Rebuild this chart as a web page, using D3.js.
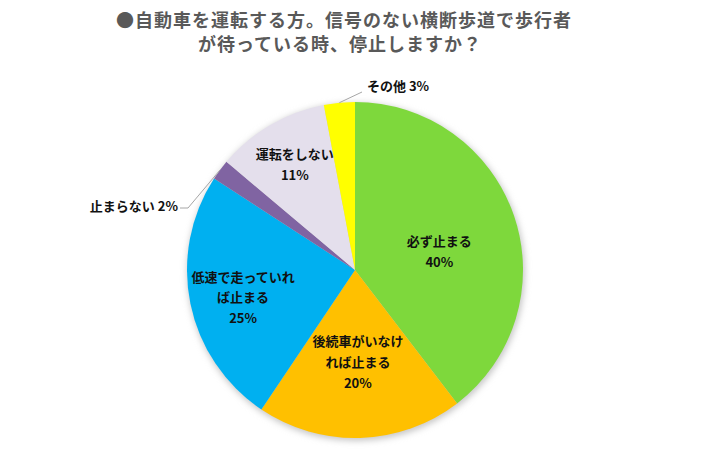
<!DOCTYPE html>
<html>
<head>
<meta charset="utf-8">
<script src="https://cdn.jsdelivr.net/npm/d3@7"></script>
<style>
  body { margin: 0; background: #fff; }
  svg { display: block; font-family: "Noto Sans CJK JP", sans-serif; }
</style>
</head>
<body>
<div id="chart"></div>
<script>
// data (Excel rounded, so it sums to 101)
const categories = ["必ず止まる", "後続車がいなければ止まる", "低速で走っていれば止まる", "止まらない", "運転をしない", "その他"];
const values = [40, 20, 25, 2, 11, 3];
const labelLines = [
    ["必ず止まる"],
    ["後続車がいなけ", "れば止まる"],
    ["低速で走っていれ", "ば止まる"],
    ["止まらない"],
    ["運転をしない"],
    ["その他"]
];
const titleLines = ["●自動車を運転する方。信号のない横断歩道で歩行者", "が待っている時、停止しますか？"];

const colors = ["#7ed83c", "#ffc000", "#00b0f0", "#8064a2", "#e4dfec", "#ffff00"];

let W = 710, H = 473;
let cx = 355, cy = 270, r = 168;

let svg = d3.select("#chart").append("svg")
    .attr("width", W)
    .attr("height", H);

// soft shadow round the pie
let defs = svg.append("defs");
defs.append("filter").attr("id", "shadow")
    .attr("x", "-20%").attr("y", "-20%").attr("width", "140%").attr("height", "140%")
    .append("feGaussianBlur").attr("stdDeviation", 3);

// title
svg.append("g").selectAll("text")
    .data(titleLines)
    .enter()
    .append("text")
    .attr("x", (d, i) => i === 0 ? 344 : 340)
    .attr("y", (d, i) => 27 + i * 24)
    .attr("text-anchor", "middle")
    .style("font-size", "18px")
    .style("letter-spacing", "1px")
    .style("font-weight", "bold")
    .style("fill", "#595959")
    .text(d => d);

let data = categories.map((c, i) => ({ name: c, value: values[i], lines: labelLines[i], color: colors[i] }));

let pie = d3.pie().sort(null).value(d => d.value);
let arcs = pie(data);

let arc = d3.arc().innerRadius(0).outerRadius(r);

let g = svg.append("g").attr("transform", `translate(${cx},${cy})`);

g.append("circle")
    .attr("cx", 1).attr("cy", 2)
    .attr("r", r + 1)
    .attr("fill", "#c8c8c8")
    .attr("filter", "url(#shadow)");

g.selectAll(".slice")
    .data(arcs)
    .enter()
    .append("path")
    .attr("class", "slice")
    .attr("d", arc)
    .attr("fill", d => d.data.color);

// inside labels: radius factor + small nudge per slice to follow the Excel placement
let insideLayout = {
    "必ず止まる": { f: 0.53, dy: 11 },
    "後続車がいなければ止まる": { f: 0.55, dy: 0 },
    "低速で走っていれば止まる": { f: 0.68, dy: 5 },
    "運転をしない": { f: 0.71, dy: -2 }
};

arcs.filter(d => insideLayout[d.data.name]).forEach(d => {
    let lay = insideLayout[d.data.name];
    let la = d3.arc().innerRadius(r * lay.f).outerRadius(r * lay.f);
    let [x, y] = la.centroid(d);
    let lines = d.data.lines.concat([d.data.value + "%"]);
    let lh = 21;
    let y0 = y + lay.dy - (lines.length - 1) * lh / 2;
    g.append("text")
        .attr("text-anchor", "middle")
        .style("font-size", "13px")
        .style("font-weight", "bold")
        .style("fill", "#111")
        .selectAll("tspan")
        .data(lines)
        .enter()
        .append("tspan")
        .attr("x", x)
        .attr("y", (t, i) => y0 + i * lh)
        .attr("dy", "0.35em")
        .text(t => t);
});

// outside labels with leader lines
let outer = [
    { name: "止まらない", elbow: [-167, -62], end: [-175, -62], tx: -177, ty: -64, anchor: "end" },
    { name: "その他", elbow: [7, -178], end: [7, -178], tx: 12, ty: -184, anchor: "start" }
];

outer.forEach(o => {
    let d = arcs.find(a => a.data.name === o.name);
    let edge = d3.arc().innerRadius(r).outerRadius(r).centroid(d);
    g.append("polyline")
        .attr("points", [edge, o.elbow, o.end].map(p => p.join(",")).join(" "))
        .attr("fill", "none")
        .attr("stroke", "#a6a6a6")
        .attr("stroke-width", 1);
    g.append("text")
        .attr("x", o.tx)
        .attr("y", o.ty)
        .attr("dy", "0.35em")
        .attr("text-anchor", o.anchor)
        .style("font-size", "13px")
        .style("font-weight", "bold")
        .style("fill", "#111")
        .text(d.data.lines[0] + " " + d.data.value + "%");
});
</script>
</body>
</html>
